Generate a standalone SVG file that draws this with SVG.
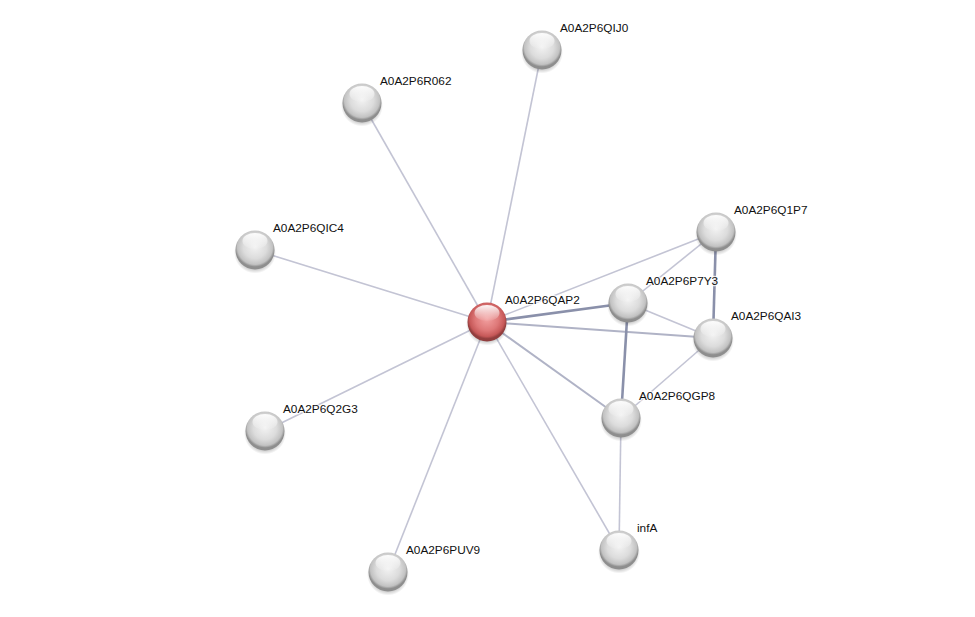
<svg xmlns="http://www.w3.org/2000/svg" width="975" height="617" viewBox="0 0 975 617">
<defs>
<radialGradient id="gGrey" cx="50%" cy="42%" r="60%">
<stop offset="0" stop-color="#f2f2f2"/>
<stop offset="0.5" stop-color="#dcdcdc"/>
<stop offset="0.75" stop-color="#c2c2c2"/>
<stop offset="0.85" stop-color="#8e8e8e"/>
</radialGradient>
<radialGradient id="gRed" cx="50%" cy="42%" r="60%">
<stop offset="0" stop-color="#f2a0a0"/>
<stop offset="0.5" stop-color="#de7878"/>
<stop offset="0.75" stop-color="#c65858"/>
<stop offset="0.85" stop-color="#923e3e"/>
</radialGradient>
<linearGradient id="gHi" x1="0" y1="0" x2="0" y2="1">
<stop offset="0" stop-color="#ffffff" stop-opacity="0.95"/>
<stop offset="1" stop-color="#ffffff" stop-opacity="0.05"/>
</linearGradient>
<radialGradient id="gShadow" cx="50%" cy="50%" r="50%">
<stop offset="0.7" stop-color="#000" stop-opacity="0.3"/>
<stop offset="1" stop-color="#000" stop-opacity="0"/>
</radialGradient>
<g id="sphereGrey">
<circle cx="0" cy="2.5" r="21" fill="url(#gShadow)"/>
<circle cx="0" cy="0" r="19.5" fill="url(#gGrey)"/>
<ellipse cx="0" cy="-9" rx="12.5" ry="8" fill="url(#gHi)"/>
</g>
<g id="sphereRed">
<circle cx="0" cy="2.5" r="21" fill="url(#gShadow)"/>
<circle cx="0" cy="0" r="19.5" fill="url(#gRed)"/>
<ellipse cx="0" cy="-9" rx="12.5" ry="8" fill="url(#gHi)"/>
</g>
</defs>
<style>
.e1{stroke:#c3c4d4;stroke-width:1.6;fill:none}
.e2{stroke:#b0b3c6;stroke-width:2;fill:none}
.e3{stroke:#8a90aa;stroke-width:2.6;fill:none}
.lbl{font-family:"Liberation Sans",Arial,sans-serif;font-size:11.8px;fill:#111;paint-order:stroke;stroke:#fff;stroke-width:2.5px;stroke-opacity:0.8}
</style>
<rect width="975" height="617" fill="#fff"/>
<g id="connectors">
<line class="e1" x1="487" y1="322" x2="542" y2="50"/>
<line class="e1" x1="487" y1="322" x2="362" y2="103"/>
<line class="e1" x1="487" y1="322" x2="255" y2="250"/>
<line class="e1" x1="487" y1="322" x2="265" y2="431"/>
<line class="e1" x1="487" y1="322" x2="388" y2="572"/>
<line class="e1" x1="487" y1="322" x2="619" y2="550"/>
<line class="e1" x1="487" y1="322" x2="716" y2="232"/>
<line class="e2" x1="487" y1="322" x2="621" y2="418"/>
<line class="e2" x1="487" y1="322" x2="713" y2="338"/>
<line class="e3" x1="487" y1="322" x2="628" y2="303"/>
<line class="e1" x1="716" y1="232" x2="628" y2="303"/>
<line class="e3" x1="716" y1="232" x2="713" y2="338"/>
<line class="e1" x1="628" y1="303" x2="713" y2="338"/>
<line class="e3" x1="628" y1="303" x2="621" y2="418"/>
<line class="e1" x1="713" y1="338" x2="621" y2="418"/>
<line class="e1" x1="621" y1="418" x2="619" y2="550"/>
</g>
<g id="n-QAP2"><use href="#sphereRed" x="487" y="322"/><text class="lbl" x="505" y="304">A0A2P6QAP2</text></g>
<g id="n-QIJ0"><use href="#sphereGrey" x="542" y="50"/><text class="lbl" x="560" y="32">A0A2P6QIJ0</text></g>
<g id="n-R062"><use href="#sphereGrey" x="362" y="103"/><text class="lbl" x="380" y="85">A0A2P6R062</text></g>
<g id="n-QIC4"><use href="#sphereGrey" x="255" y="250"/><text class="lbl" x="273" y="232">A0A2P6QIC4</text></g>
<g id="n-Q2G3"><use href="#sphereGrey" x="265" y="431"/><text class="lbl" x="283" y="413">A0A2P6Q2G3</text></g>
<g id="n-PUV9"><use href="#sphereGrey" x="388" y="572"/><text class="lbl" x="406" y="554">A0A2P6PUV9</text></g>
<g id="n-Q1P7"><use href="#sphereGrey" x="716" y="232"/><text class="lbl" x="734" y="214">A0A2P6Q1P7</text></g>
<g id="n-P7Y3"><use href="#sphereGrey" x="628" y="303"/><text class="lbl" x="646" y="285">A0A2P6P7Y3</text></g>
<g id="n-QAI3"><use href="#sphereGrey" x="713" y="338"/><text class="lbl" x="731" y="320">A0A2P6QAI3</text></g>
<g id="n-QGP8"><use href="#sphereGrey" x="621" y="418"/><text class="lbl" x="639" y="400">A0A2P6QGP8</text></g>
<g id="n-infA"><use href="#sphereGrey" x="619" y="550"/><text class="lbl" x="637" y="532">infA</text></g>
</svg>
